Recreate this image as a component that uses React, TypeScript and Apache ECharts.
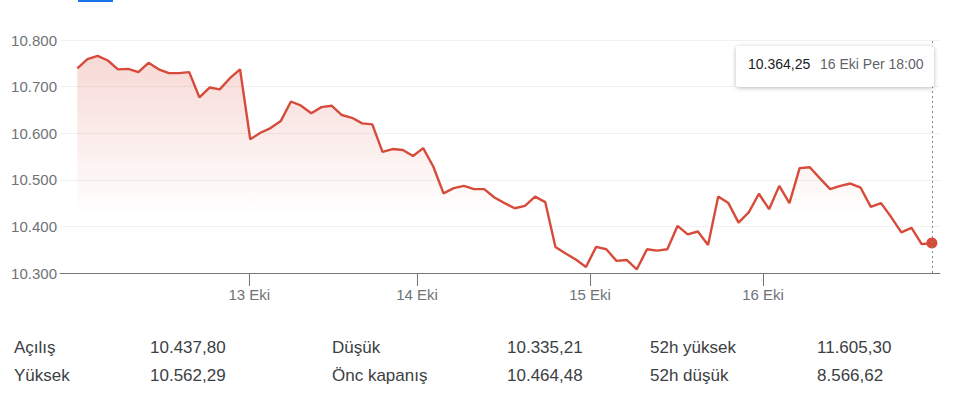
import React, { useEffect, useRef } from 'react';
import * as echarts from 'echarts';

// 30-minute closes, 12–16 Ekim (index = trading step)
const prices: number[] = [
  10739, 10759, 10766, 10756, 10737, 10738, 10731, 10751, 10737, 10729,
  10729, 10731, 10677, 10698, 10694, 10718, 10737, 10587, 10601, 10611,
  10626, 10668, 10659, 10643, 10656, 10659, 10639, 10633, 10621, 10619,
  10560, 10566, 10564, 10551, 10568, 10528, 10471, 10482, 10487, 10480,
  10480, 10462, 10450, 10439, 10444, 10464, 10452, 10356, 10342, 10329,
  10313, 10356, 10351, 10326, 10328, 10308, 10351, 10348, 10351, 10401,
  10383, 10389, 10360, 10464, 10450, 10408, 10430, 10470, 10437, 10487,
  10450, 10525, 10527, 10503, 10480, 10487, 10492, 10483, 10442, 10450,
  10420, 10387, 10397, 10362, 10364.25,
];

const dayTickPos: number[] = [16.9, 33.4, 50.4, 67.4];
const dayLabels: string[] = ['13 Eki', '14 Eki', '15 Eki', '16 Eki'];

const yMin = 10300;
const yMax = 10800;
const yStep = 100;

const lastTimeLabel = '16 Eki Per 18:00';

const statLabelsA = ['Açılış', 'Yüksek'];
const statValuesA = ['10.437,80', '10.562,29'];
const statLabelsB = ['Düşük', 'Önc kapanış'];
const statValuesB = ['10.335,21', '10.464,48'];
const statLabelsC = ['52h yüksek', '52h düşük'];
const statValuesC = ['11.605,30', '8.566,62'];

const FONT = '"Liberation Sans", Arial, Helvetica, sans-serif';

function groupThousands(n: number): string {
  const s = Math.floor(Math.abs(n)).toString();
  return s.replace(/\B(?=(\d{3})+(?!\d))/g, '.');
}
function fmtInt(v: number): string {
  return groupThousands(v);
}
function fmtDec(v: number): string {
  const cents = Math.round(v * 100) % 100;
  return groupThousands(v) + ',' + (cents < 10 ? '0' : '') + cents;
}

export default function App() {
  const ref = useRef<HTMLDivElement>(null);

  useEffect(() => {
    if (!ref.current) return;
    const chart = echarts.init(ref.current, undefined, { renderer: 'svg' });
    const lastIdx = prices.length - 1;
    const lastVal = prices[lastIdx];
    const red = '#d74b3b';

    const rows = [0, 1];
    const cols: [string[], string[], number, number][] = [
      [statLabelsA, statValuesA, 14, 150],
      [statLabelsB, statValuesB, 332, 507],
      [statLabelsC, statValuesC, 650, 817],
    ];
    const statTexts: any[] = [];
    cols.forEach(([labs, vals, xl, xv]) => {
      rows.forEach((r) => {
        const y = 347 + r * 28;
        statTexts.push({
          type: 'text',
          x: xl,
          y,
          style: { text: labs[r], fill: '#3c4043', font: `17px ${FONT}`, verticalAlign: 'middle' },
        });
        statTexts.push({
          type: 'text',
          x: xv,
          y,
          style: { text: vals[r], fill: '#3c4043', font: `17px ${FONT}`, verticalAlign: 'middle' },
        });
      });
    });

    chart.setOption({
      animation: false,
      textStyle: { fontFamily: FONT },
      grid: { left: 60, right: 20, top: 40, bottom: 139, containLabel: false },
      xAxis: {
        type: 'value',
        min: -1.7,
        max: 84.8,
        axisLine: { show: true, lineStyle: { color: '#757575', width: 1 } },
        axisTick: {
          show: true,
          customValues: dayTickPos,
          length: 13,
          lineStyle: { color: '#757575', width: 1 },
        },
        axisLabel: {
          customValues: dayTickPos,
          margin: 14,
          fontSize: 15,
          color: '#6f7377',
          fontFamily: FONT,
          formatter: (v: number) => {
            const k = dayTickPos.findIndex((p) => Math.abs(p - v) < 0.01);
            return k >= 0 ? dayLabels[k] : '';
          },
        },
        splitLine: { show: false },
      },
      yAxis: {
        type: 'value',
        min: yMin,
        max: yMax,
        interval: yStep,
        axisLine: { show: false },
        axisTick: { show: false },
        axisLabel: {
          margin: 3,
          fontSize: 15,
          color: '#6f7377',
          fontFamily: FONT,
          formatter: (v: number) => fmtInt(v),
        },
        splitLine: { show: true, lineStyle: { color: '#f1f1f1', width: 1 } },
      },
      series: [
        {
          type: 'line',
          data: prices.map((v, i) => [i, v]),
          showSymbol: false,
          symbol: 'none',
          lineStyle: { color: red, width: 2.4 },
          itemStyle: { color: red },
          areaStyle: {
            color: new echarts.graphic.LinearGradient(
              0, 45, 0, 215,
              [
                { offset: 0, color: 'rgba(215,75,59,0.32)' },
                { offset: 1, color: 'rgba(215,75,59,0)' },
              ],
              true
            ),
          },
          markLine: {
            silent: true,
            symbol: ['none', 'none'],
            label: { show: false },
            lineStyle: { color: '#80868b', type: [2, 3], width: 1 },
            data: [{ xAxis: lastIdx }],
          },
          z: 2,
        },
        {
          type: 'scatter',
          data: [[lastIdx, lastVal]],
          symbol: 'circle',
          symbolSize: 11,
          itemStyle: { color: red, opacity: 1 },
          z: 4,
        },
      ],
      graphic: [
        {
          type: 'rect',
          shape: { x: 78, y: 0, width: 35, height: 2 },
          style: { fill: '#1a73e8' },
        },
        {
          type: 'rect',
          z: 100,
          shape: { x: 736, y: 46, width: 198, height: 41, r: 3 },
          style: {
            fill: '#ffffff',
            shadowBlur: 4,
            shadowOffsetY: 1,
            shadowColor: 'rgba(0,0,0,0.28)',
          },
        },
        {
          type: 'text',
          z: 101,
          x: 748,
          y: 64,
          style: {
            text: fmtDec(lastVal),
            fill: '#202124',
            font: `14px ${FONT}`,
            verticalAlign: 'middle',
          },
        },
        {
          type: 'text',
          z: 101,
          x: 820,
          y: 64,
          style: {
            text: lastTimeLabel,
            fill: '#5f6368',
            font: `14px ${FONT}`,
            verticalAlign: 'middle',
          },
        },
        ...statTexts,
      ],
    });

    return () => chart.dispose();
  }, []);

  return (
    <div
      ref={ref}
      style={{ position: 'fixed', left: 0, top: 0, width: 960, height: 412, background: '#fff' }}
    />
  );
}
